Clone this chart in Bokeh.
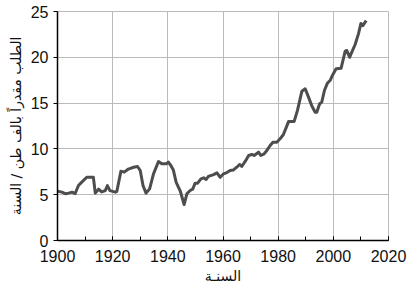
from bokeh.plotting import figure
from bokeh.models import Range1d, SingleIntervalTicker
from bokeh.embed import file_html
from bokeh.resources import INLINE

years = [1900, 1901.6, 1903, 1904, 1905.3, 1906.4, 1907.6, 1908.8, 1910.6, 1913, 1913.7,
         1914.9, 1916, 1917.3, 1918.1, 1919, 1921, 1921.5, 1923, 1924.2, 1925.7, 1927.6,
         1929, 1930, 1931, 1932.1, 1933.4, 1934.8, 1936.6, 1937.8, 1939.4, 1940.2, 1941.1,
         1942, 1943, 1944.5, 1945.9, 1946.9, 1948.1, 1949, 1949.9, 1950.8, 1952, 1953,
         1953.9, 1954.7, 1956.6, 1957.8, 1959, 1960.2, 1961.4, 1962.6, 1963.8, 1965, 1966,
         1966.8, 1968.1, 1969.3, 1970.5, 1971.3, 1972.9, 1973.7, 1974.9, 1975.9, 1977.1,
         1978.1, 1979.5, 1980.7, 1981.9, 1983.8, 1985.8, 1987, 1988.6, 1989.8, 1991, 1992.2,
         1993.4, 1994, 1995, 1995.8, 1996.8, 1997.9, 1998.9, 1999.8, 2001, 2002.8, 2004.3,
         2004.9, 2005.9, 2006.7, 2007.9, 2009.1, 2010, 2010.7, 2011.9]
demand = [5.39, 5.28, 5.1, 5.17, 5.28, 5.13, 6.0, 6.37, 6.9, 6.9, 5.17,
          5.6, 5.3, 5.45, 6.0, 5.45, 5.28, 5.35, 7.57, 7.46, 7.8, 8.0,
          8.08, 7.64, 6.0, 5.17, 5.64, 7.28, 8.62, 8.37, 8.37, 8.55, 8.19,
          7.7, 6.37, 5.4, 3.93, 5.1, 5.46, 5.6, 6.26, 6.26, 6.73, 6.84,
          6.66, 7.0, 7.2, 7.39, 6.9, 7.28, 7.42, 7.64, 7.7, 8.0, 8.3,
          8.08, 8.66, 9.28, 9.39, 9.28, 9.64, 9.28, 9.46, 9.83, 10.37,
          10.73, 10.73, 11.1, 11.57, 13.0, 13.0, 14.2, 16.3, 16.56, 15.65, 14.7,
          14.0, 14.0, 14.9, 15.1, 16.4, 17.2, 17.5, 18.1, 18.74, 18.8, 20.67,
          20.74, 20.0, 20.56, 21.4, 22.56, 23.7, 23.45, 24.0]

x_label = "السنـة"
y_label = "الطلب مقدراً بالف طن / السنة"

p = figure(width=417, height=300, output_backend="svg", toolbar_location=None,
           x_range=Range1d(1900, 2020), y_range=Range1d(0, 25),
           min_border_left=57, min_border_right=29, min_border_top=11, min_border_bottom=60)
p.background_fill_color = "white"
p.border_fill_color = "white"
p.outline_line_color = "#bbbbbb"

p.line(years, demand, line_color="#4d4d4d", line_width=3, line_join="round")

p.xaxis.ticker = SingleIntervalTicker(interval=20, num_minor_ticks=2)
p.yaxis.ticker = SingleIntervalTicker(interval=5, num_minor_ticks=0)
for ax in (p.xaxis, p.yaxis):
    ax.axis_line_color = "black"
    ax.axis_line_width = 1.5
    ax.major_tick_line_color = "black"
    ax.minor_tick_line_color = "black"
    ax.major_label_text_font = "Liberation Sans"
    ax.major_label_text_font_size = "16px"
    ax.major_label_text_color = "#111111"
    ax.axis_label_text_font = "DejaVu Sans"
    ax.axis_label_text_font_size = "14px"
    ax.axis_label_text_font_style = "normal"
    ax.axis_label_text_color = "#111111"

p.xaxis.major_tick_out = 0
p.xaxis.major_tick_in = 4
p.xaxis.minor_tick_out = 0
p.xaxis.minor_tick_in = 4
p.xaxis.major_label_standoff = 9
p.yaxis.major_tick_out = 4
p.yaxis.major_tick_in = 0
p.yaxis.major_label_standoff = 5

p.xaxis.axis_label = x_label
p.yaxis.axis_label = y_label
p.xaxis.axis_label_standoff = 3
p.yaxis.axis_label_standoff = 4

p.grid.grid_line_color = "#bbbbbb"
p.grid.grid_line_width = 1
p.xgrid.ticker = SingleIntervalTicker(interval=20)
p.ygrid.ticker = SingleIntervalTicker(interval=5)

open("out.html", "w").write(file_html(p, INLINE))
